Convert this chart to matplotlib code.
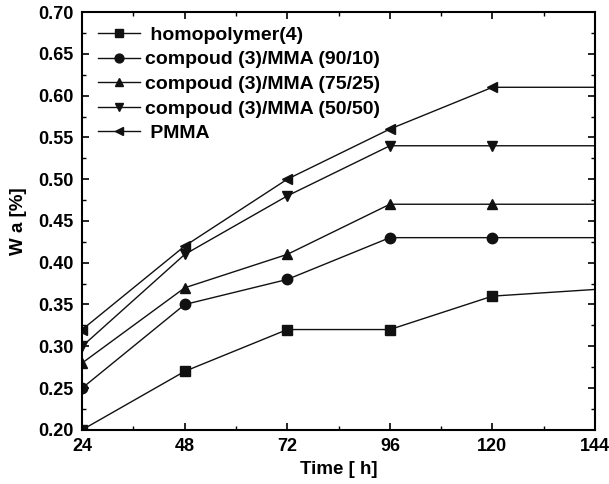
import matplotlib
matplotlib.use("Agg")
import matplotlib.pyplot as plt
from matplotlib.ticker import MultipleLocator

plt.rcParams['font.family'] = ['Liberation Sans', 'DejaVu Sans']
plt.rcParams['font.weight'] = 'bold'

time_h = [24, 48, 72, 96, 120, 144]
homopolymer = [0.20, 0.27, 0.32, 0.32, 0.36, 0.368]
mma_90_10 = [0.25, 0.35, 0.38, 0.43, 0.43, 0.43]
mma_75_25 = [0.28, 0.37, 0.41, 0.47, 0.47, 0.47]
mma_50_50 = [0.30, 0.41, 0.48, 0.54, 0.54, 0.54]
pmma = [0.32, 0.42, 0.50, 0.56, 0.61, 0.61]

series = [
    (" homopolymer(4)", homopolymer, "s"),
    ("compoud (3)/MMA (90/10)", mma_90_10, "o"),
    ("compoud (3)/MMA (75/25)", mma_75_25, "^"),
    ("compoud (3)/MMA (50/50)", mma_50_50, "v"),
    (" PMMA", pmma, "<"),
]

fig = plt.figure(figsize=(6.09, 4.84), dpi=100)
ax = fig.add_axes([0.135, 0.112, 0.842, 0.863])

for name, vals, mk in series:
    ax.plot(time_h, vals, color="#111111", lw=1.0, marker=mk, ms=7.5,
            markevery=slice(0, 5), label=name)

ax.set_xlim(24, 144)
ax.set_ylim(0.20, 0.70)
ax.xaxis.set_major_locator(MultipleLocator(24))
ax.xaxis.set_minor_locator(MultipleLocator(12))
ax.yaxis.set_major_locator(MultipleLocator(0.05))
ax.yaxis.set_minor_locator(MultipleLocator(0.025))
ax.tick_params(which="both", direction="in", top=True, right=True, labelsize=13)
ax.tick_params(which="major", length=5, width=1.2, pad=6)
ax.tick_params(which="minor", length=3, width=1.0)
for sp in ax.spines.values():
    sp.set_linewidth(1.5)

ax.set_xlabel("Time [ h]", fontsize=13.5, fontweight="bold", labelpad=4)
ax.set_ylabel("W a [%]", fontsize=13.5, fontweight="bold", labelpad=8)

leg = ax.legend(loc="upper left", frameon=False, fontsize=14, handlelength=2.2,
                handletextpad=0.25, markerscale=0.85, borderaxespad=0.0,
                labelspacing=0.36, bbox_to_anchor=(0.015, 0.985))

fig.savefig("out.png", dpi=100)
